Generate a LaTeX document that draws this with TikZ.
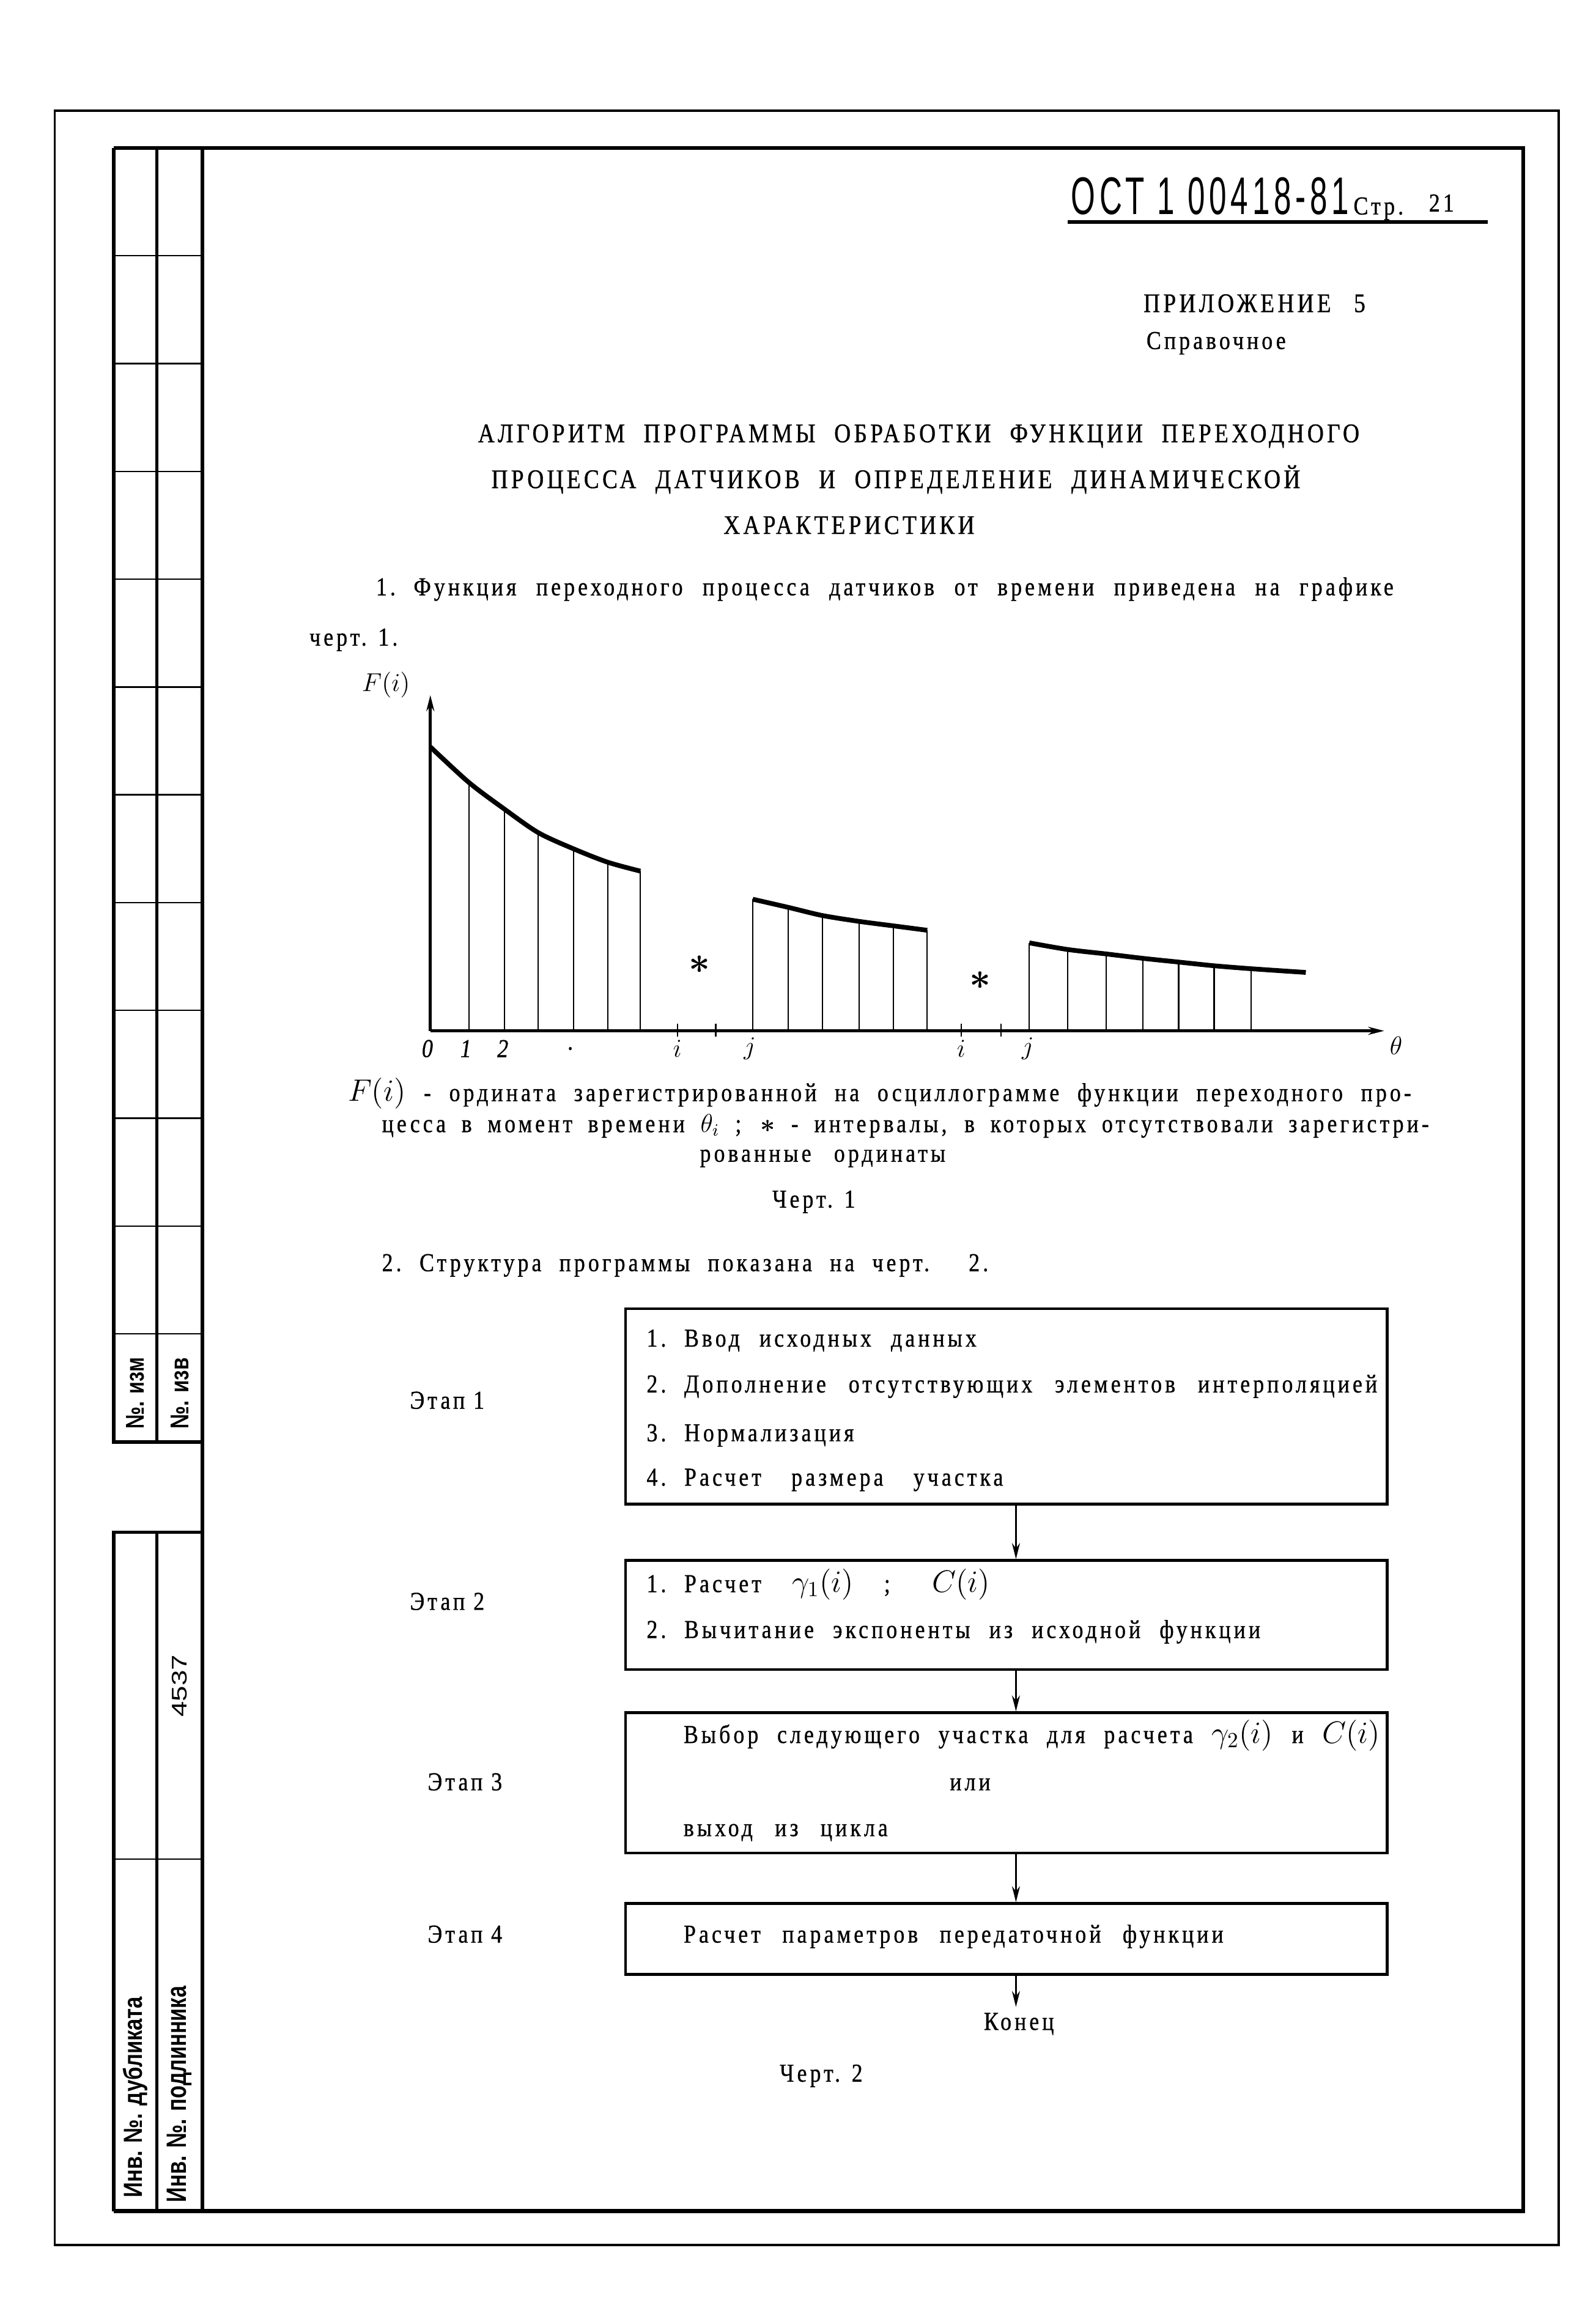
\documentclass[tikz,border=0pt]{standalone}
\usepackage{amsmath}
\usepackage{graphicx}
\usepackage{fontspec}
\setmainfont{Liberation Serif}[FakeStretch=0.85, LetterSpace=12, FakeBold=0.8]
\newfontfamily\gostfont{Liberation Sans}[FakeStretch=0.6, LetterSpace=8]
\newfontfamily\stampfont{Liberation Sans}[FakeStretch=0.55]
\usetikzlibrary{arrows.meta}
% one unit of the page grid
\newdimen\pu \pu=0.2418mm
\newcommand{\jline}[2]{\makebox[#1\pu][s]{#2}}
\newcommand{\nr}[1]{#1.\kern0.7em}
\newcommand{\stampbox}[3]{\resizebox{#1\pu}{#2\pu}{\stampfont\bfseries #3}}

\begin{document}
\begin{tikzpicture}[x=0.2418mm, y=-0.2418mm,
  >={Stealth[length=2.6mm, width=1.3mm]},
  txt/.style={inner sep=0pt, anchor=base west, font=\fontsize{12}{14}\selectfont},
  ttl/.style={txt, font=\fontsize{12.5}{14}\selectfont},
  lbl/.style={inner sep=0pt, font=\fontsize{12}{14}\selectfont\itshape},
  stamp/.style={inner sep=0pt, rotate=90},
  blk/.style={draw, line width=1.2pt, minimum width=515*\pu, inner sep=0pt},
  stem/.style={line width=0.6pt},
  curve/.style={line width=2.2pt},
  axis/.style={line width=1.4pt}]
\useasboundingbox (0,0) rectangle (1079,1568);

% frames
\draw[line width=1.1pt] (37,75) rectangle (1054,1518);
\draw[line width=1.8pt] (77,100) -- (1030,100) -- (1030,1495) -- (77,1495);
\draw[line width=1.8pt] (137,100) -- (137,1495);

% stamp column
\draw[line width=1.6pt] (77,100) -- (77,975) -- (137,975);
\draw[line width=1.4pt] (106,100) -- (106,975);
\foreach \r in {1,...,11}
  \draw[line width=0.7pt] (77,{100+\r*72.9}) -- (137,{100+\r*72.9});
\draw[line width=1.6pt] (137,1036) -- (77,1036) -- (77,1495);
\draw[line width=1.4pt] (106,1036) -- (106,1495);
\draw[line width=0.8pt] (77,1257) -- (137,1257);
\node[stamp] (izm) at (91.5,942) {\stampbox{48}{12}{№. изм}};
\node[stamp] (izv) at (121.5,942) {\stampbox{48}{12}{№. изв}};
\node[stamp] (inum) at (121.5,1140) {\resizebox{42\pu}{10\pu}{\stampfont 4537}};
\node[stamp] (dubl) at (91.5,1418) {\stampbox{136}{13}{Инв. №. дубликата}};
\node[stamp] (podl) at (121.5,1416) {\stampbox{146}{13}{Инв. №. подлинника}};

% header
\node[inner sep=0pt, anchor=base west] (ost) at (724,145) {\resizebox{188\pu}{25\pu}{\gostfont ОСТ 1 00418-81}};
\node[txt] (str) at (915,145) {Стр.};
\node[txt] (pg) at (966,143) {21};
\draw[line width=1.6pt] (722,150) -- (1006,150);

\node[txt] (app) at (773,211) {\fontsize{12.5}{14}\selectfont\jline{150}{ПРИЛОЖЕНИЕ 5}};
\node[txt] (ref) at (775,236) {Справочное};
\node[ttl] (t1) at (323,299) {\jline{596}{АЛГОРИТМ ПРОГРАММЫ ОБРАБОТКИ ФУНКЦИИ ПЕРЕХОДНОГО}};
\node[ttl] (t2) at (332,330) {\jline{547}{ПРОЦЕССА ДАТЧИКОВ И ОПРЕДЕЛЕНИЕ ДИНАМИЧЕСКОЙ}};
\node[ttl] (t3) at (489,361) {ХАРАКТЕРИСТИКИ};

\node[txt] (p1) at (254,402.5) {\jline{688}{\nr{1}Функция переходного процесса датчиков от времени приведена на графике}};
\node[txt] (p1b) at (209,436.5) {черт. 1.};

% chart 1
\coordinate (O) at (291,697);
\draw[axis,->] (O) -- (291,470);
\draw[axis,->] (O) -- (936,697);
\foreach \x/\y in {317/529,341/547,364/563,388/574,411/583,433/589}
  \draw[stem] (\x,697) -- (\x,\y);
\draw[curve] plot[smooth] coordinates {(291,505) (317,529) (341,547) (364,563) (388,574) (411,583) (433,589)};
\foreach \x/\y in {509/608,533/613.5,556/619,581/623,604/626,627/629}
  \draw[stem] (\x,697) -- (\x,\y);
\draw[curve] plot[smooth] coordinates {(509,608) (533,613.5) (556,619) (581,623) (604,626) (627,629)};
\foreach \x/\y in {696/637.5,722/642,748/645,773/648,797/650.5,821/653,846/655}
  \draw[stem] (\x,697) -- (\x,\y);
\draw[curve] plot[smooth] coordinates {(696,637.5) (722,642) (748,645) (773,648) (797,650.5) (821,653) (846,655) (883,657.5)};
\foreach \x in {458,484,650,677}
  \draw[stem] (\x,692) -- (\x,701);
\node[lbl] (fy) at (261,463) {$F(i)$};
\node[lbl] (th) at (944,707) {$\theta$};
\foreach \x/\t in {289/0,315/1,340/2,386/.}
  \node[lbl] at (\x,709) {\t};
\foreach \x/\t in {458/i,507/j,650/i,695/j}
  \node[lbl] at (\x,709) {$\t$};
\node[lbl] (st1) at (473,652) {\LARGE$\boldsymbol{*}$};
\node[lbl] (st2) at (663,663) {\LARGE$\boldsymbol{*}$};

% legend of chart 1
\node[txt] (l1) at (235,744.5) {\jline{719}{{\Large$F(i)$} - ордината зарегистрированной на осциллограмме функции переходного про-}};
\node[txt] (l2) at (258,765.5) {\jline{708}{цесса в момент времени {\large$\theta_i$} ; {\large$\boldsymbol{*}$} - интервалы, в которых отсутствовали зарегистри-}};
\node[txt] (l3) at (473,785.5) {\jline{166}{рованные ординаты}};
\node[txt] (c1) at (522,816.5) {Черт. 1};
\node[txt] (p2) at (258,859.5) {\jline{410}{\nr{2}Структура программы показана на черт. 2.}};

% chart 2
\node[blk, minimum height=132*\pu] (s1) at (680.5,951) {};
\node[blk, minimum height=74*\pu] (s2) at (680.5,1092) {};
\node[blk, minimum height=95*\pu] (s3) at (680.5,1205.5) {};
\node[blk, minimum height=48*\pu] (s4) at (680.5,1311) {};
\coordinate (ax) at (687,0);
\coordinate (end) at (687,1357);
\draw[line width=1pt,->] (s1.south -| ax) -- (s2.north -| ax);
\draw[line width=1pt,->] (s2.south -| ax) -- (s3.north -| ax);
\draw[line width=1pt,->] (s3.south -| ax) -- (s4.north -| ax);
\draw[line width=1pt,->] (s4.south -| ax) -- (end);

\node[txt] (e1) at (277,952.5) {Этап 1};
\node[txt] (e2) at (277,1088.5) {Этап 2};
\node[txt] (e3) at (289,1210.5) {Этап 3};
\node[txt] (e4) at (289,1313.5) {Этап 4};

\node[txt] (a1) at (437,910.5) {\jline{223}{\nr{1}Ввод исходных данных}};
\node[txt] (a2) at (437,941.5) {\jline{494}{\nr{2}Дополнение отсутствующих элементов интерполяцией}};
\node[txt] (a3) at (437,974.5) {\nr{3}Нормализация};
\node[txt] (a4) at (437,1004.5) {\jline{241}{\nr{4}Расчет размера участка}};
\node[txt] (b1) at (437,1076.5) {\jline{232}{\nr{1}Расчет {\Large$\gamma_1(i)$} ; {\Large$C(i)$}}};
\node[txt] (b2) at (437,1107.5) {\jline{415}{\nr{2}Вычитание экспоненты из исходной функции}};
\node[txt] (d1) at (462,1178.5) {\jline{471}{Выбор следующего участка для расчета {\Large$\gamma_2(i)$} и {\Large$C(i)$}}};
\node[txt] (d2) at (642,1210.5) {или};
\node[txt] (d3) at (462,1241.5) {\jline{138}{выход из цикла}};
\node[txt] (f1) at (462,1313.5) {\jline{365}{Расчет параметров передаточной функции}};
\node[txt] (kon) at (665,1372.5) {Конец};
\node[txt] (c2) at (527,1407.5) {Черт. 2};
\end{tikzpicture}
\end{document}
